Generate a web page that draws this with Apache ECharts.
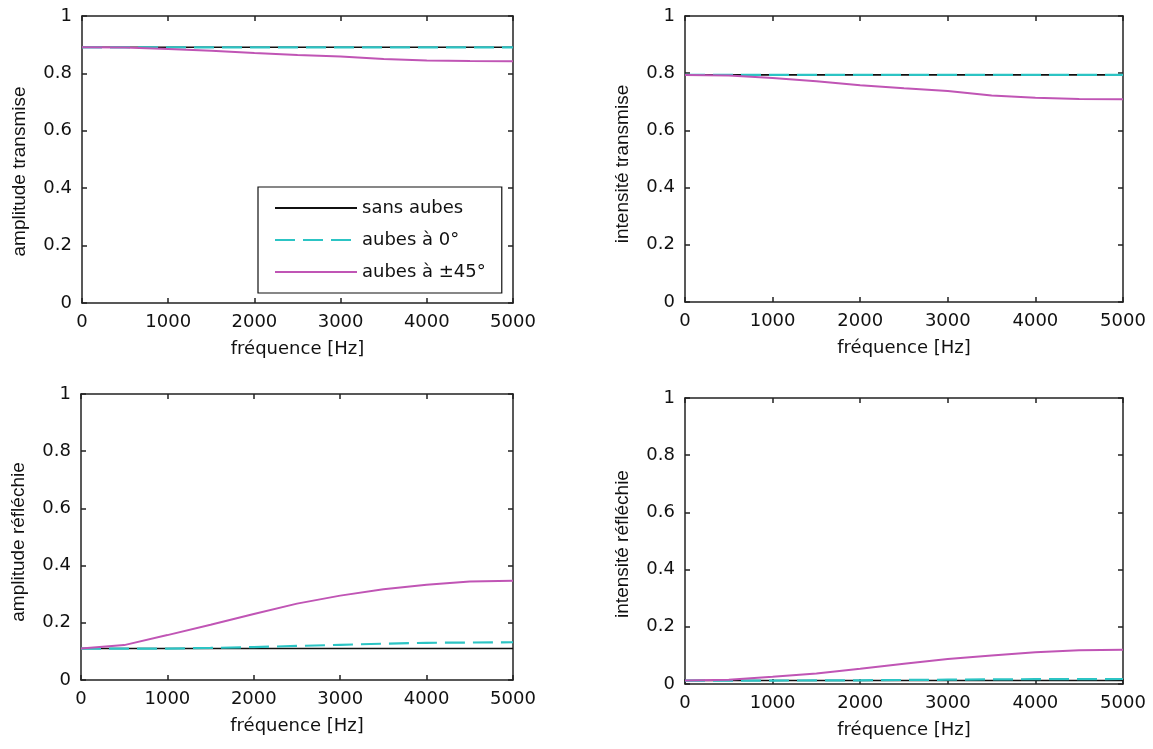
<!DOCTYPE html>
<html>
<head>
<meta charset="utf-8">
<script src="https://cdn.jsdelivr.net/npm/echarts@6.0.0/dist/echarts.min.js"></script>
<style>
html,body{margin:0;padding:0;background:#fff;}
#chart{width:1153px;height:749px;}
</style>
</head>
<body>
<div id="chart"></div>
<script>
// ---- data ----
const freq = [0, 500, 1000, 1500, 2000, 2500, 3000, 3500, 4000, 4500, 5000];
const seriesNames = ['sans aubes', 'aubes à 0°', 'aubes à ±45°'];
const xTitle = 'fréquence [Hz]';
const yTitles = ['amplitude transmise', 'intensité transmise', 'amplitude réfléchie', 'intensité réfléchie'];

// amplitude transmise
const ampTransSans = [0.891, 0.891, 0.891, 0.891, 0.891, 0.891, 0.891, 0.891, 0.891, 0.891, 0.891];
const ampTransZero = [0.891, 0.891, 0.891, 0.891, 0.891, 0.891, 0.891, 0.891, 0.891, 0.891, 0.891];
const ampTransPm45 = [0.891, 0.890, 0.885, 0.879, 0.871, 0.864, 0.859, 0.850, 0.845, 0.843, 0.842];
// intensité transmise
const intTransSans = [0.794, 0.794, 0.794, 0.794, 0.794, 0.794, 0.794, 0.794, 0.794, 0.794, 0.794];
const intTransZero = [0.794, 0.794, 0.794, 0.794, 0.794, 0.794, 0.794, 0.794, 0.794, 0.794, 0.794];
const intTransPm45 = [0.794, 0.792, 0.783, 0.772, 0.758, 0.747, 0.738, 0.722, 0.714, 0.710, 0.709];
// amplitude réfléchie
const ampReflSans = [0.110, 0.110, 0.110, 0.110, 0.110, 0.110, 0.110, 0.110, 0.110, 0.110, 0.110];
const ampReflZero = [0.110, 0.110, 0.110, 0.112, 0.115, 0.119, 0.123, 0.127, 0.130, 0.131, 0.132];
const ampReflPm45 = [0.110, 0.122, 0.157, 0.193, 0.231, 0.267, 0.295, 0.317, 0.333, 0.344, 0.347];
// intensité réfléchie
const intReflSans = [0.012, 0.012, 0.012, 0.012, 0.012, 0.012, 0.012, 0.012, 0.012, 0.012, 0.012];
const intReflZero = [0.012, 0.012, 0.012, 0.0125, 0.013, 0.014, 0.015, 0.016, 0.017, 0.017, 0.0174];
const intReflPm45 = [0.012, 0.015, 0.025, 0.037, 0.053, 0.071, 0.087, 0.100, 0.111, 0.118, 0.120];

const panels = [
  [ampTransSans, ampTransZero, ampTransPm45],
  [intTransSans, intTransZero, intTransPm45],
  [ampReflSans, ampReflZero, ampReflPm45],
  [intReflSans, intReflZero, intReflPm45]
];

// ---- layout / style ----
const grids = [
  {left: 82, top: 16, width: 431, height: 287},
  {left: 685, top: 16, width: 438, height: 286},
  {left: 81, top: 394, width: 432, height: 286},
  {left: 685, top: 398, width: 438, height: 286}
];
// local padding shifts the rotated y titles along the axis (right pad -> moves down)
const yTitlePads = [[0, 24, 0, 0], [0, 10, 0, 0], [0, 10, 0, 0], [0, 6, 0, 0]];
const H_FONT = 'DejaVu Sans';
const V_FONT = 'Liberation Sans';
const AX = '#222';
const lineStyles = [
  {color: '#111111', width: 1.6, type: 'solid'},
  {color: '#2cc4c4', width: 2.2, type: [20, 8]},
  {color: '#c055b5', width: 2, type: 'solid'}
];

const xAxes = [], yAxes = [], series = [];
grids.forEach((g, i) => {
  const common = {
    axisLine: {show: true, onZero: false, lineStyle: {color: AX, width: 1.5}},
    axisTick: {show: true, inside: true, length: 5, lineStyle: {color: AX, width: 1.5}},
    splitLine: {show: false}
  };
  xAxes.push(Object.assign({}, common, {
    type: 'value', gridIndex: i, position: 'bottom', min: 0, max: 5000, interval: 1000,
    axisLabel: {show: true, margin: 10, color: '#111', fontFamily: H_FONT, fontSize: 18,
      formatter: v => String(v)},
    name: xTitle, nameLocation: 'middle', nameGap: 37,
    nameTextStyle: {color: '#111', fontFamily: H_FONT, fontSize: 18}
  }));
  xAxes.push(Object.assign({}, common, {
    type: 'value', gridIndex: i, position: 'top', min: 0, max: 5000, interval: 1000,
    axisLabel: {show: false}
  }));
  yAxes.push(Object.assign({}, common, {
    type: 'value', gridIndex: i, position: 'left', min: 0, max: 1, interval: 0.2,
    axisLabel: {show: true, margin: 10, color: '#111', fontFamily: H_FONT, fontSize: 18,
      formatter: v => String(Math.round(v * 10) / 10)},
    name: yTitles[i], nameLocation: 'middle', nameGap: 53,
    nameTextStyle: {color: '#111', fontFamily: V_FONT, fontSize: 19, padding: yTitlePads[i]}
  }));
  yAxes.push(Object.assign({}, common, {
    type: 'value', gridIndex: i, position: 'right', min: 0, max: 1, interval: 0.2,
    axisLabel: {show: false}
  }));
  panels[i].forEach((vals, k) => {
    series.push({
      name: seriesNames[k],
      type: 'line',
      xAxisIndex: 2 * i,
      yAxisIndex: 2 * i,
      data: freq.map((f, j) => [f, vals[j]]),
      symbol: 'none',
      smooth: false,
      animation: false,
      lineStyle: lineStyles[k],
      itemStyle: {color: lineStyles[k].color},
      z: 2 + k
    });
  });
});

const chart = echarts.init(document.getElementById('chart'), null, {renderer: 'canvas'});
chart.setOption({
  backgroundColor: '#ffffff',
  animation: false,
  grid: grids,
  xAxis: xAxes,
  yAxis: yAxes,
  legend: {
    data: seriesNames,
    orient: 'vertical',
    left: 258,
    top: 187,
    padding: [12, 16, 12, 16],
    itemGap: 14,
    itemWidth: 82,
    itemHeight: 14,
    backgroundColor: '#ffffff',
    borderColor: '#111',
    borderWidth: 1.2,
    borderRadius: 0,
    selectedMode: false,
    itemStyle: {opacity: 0},
    textStyle: {color: '#111', fontFamily: H_FONT, fontSize: 18}
  },
  series: series
});
</script>
</body>
</html>
